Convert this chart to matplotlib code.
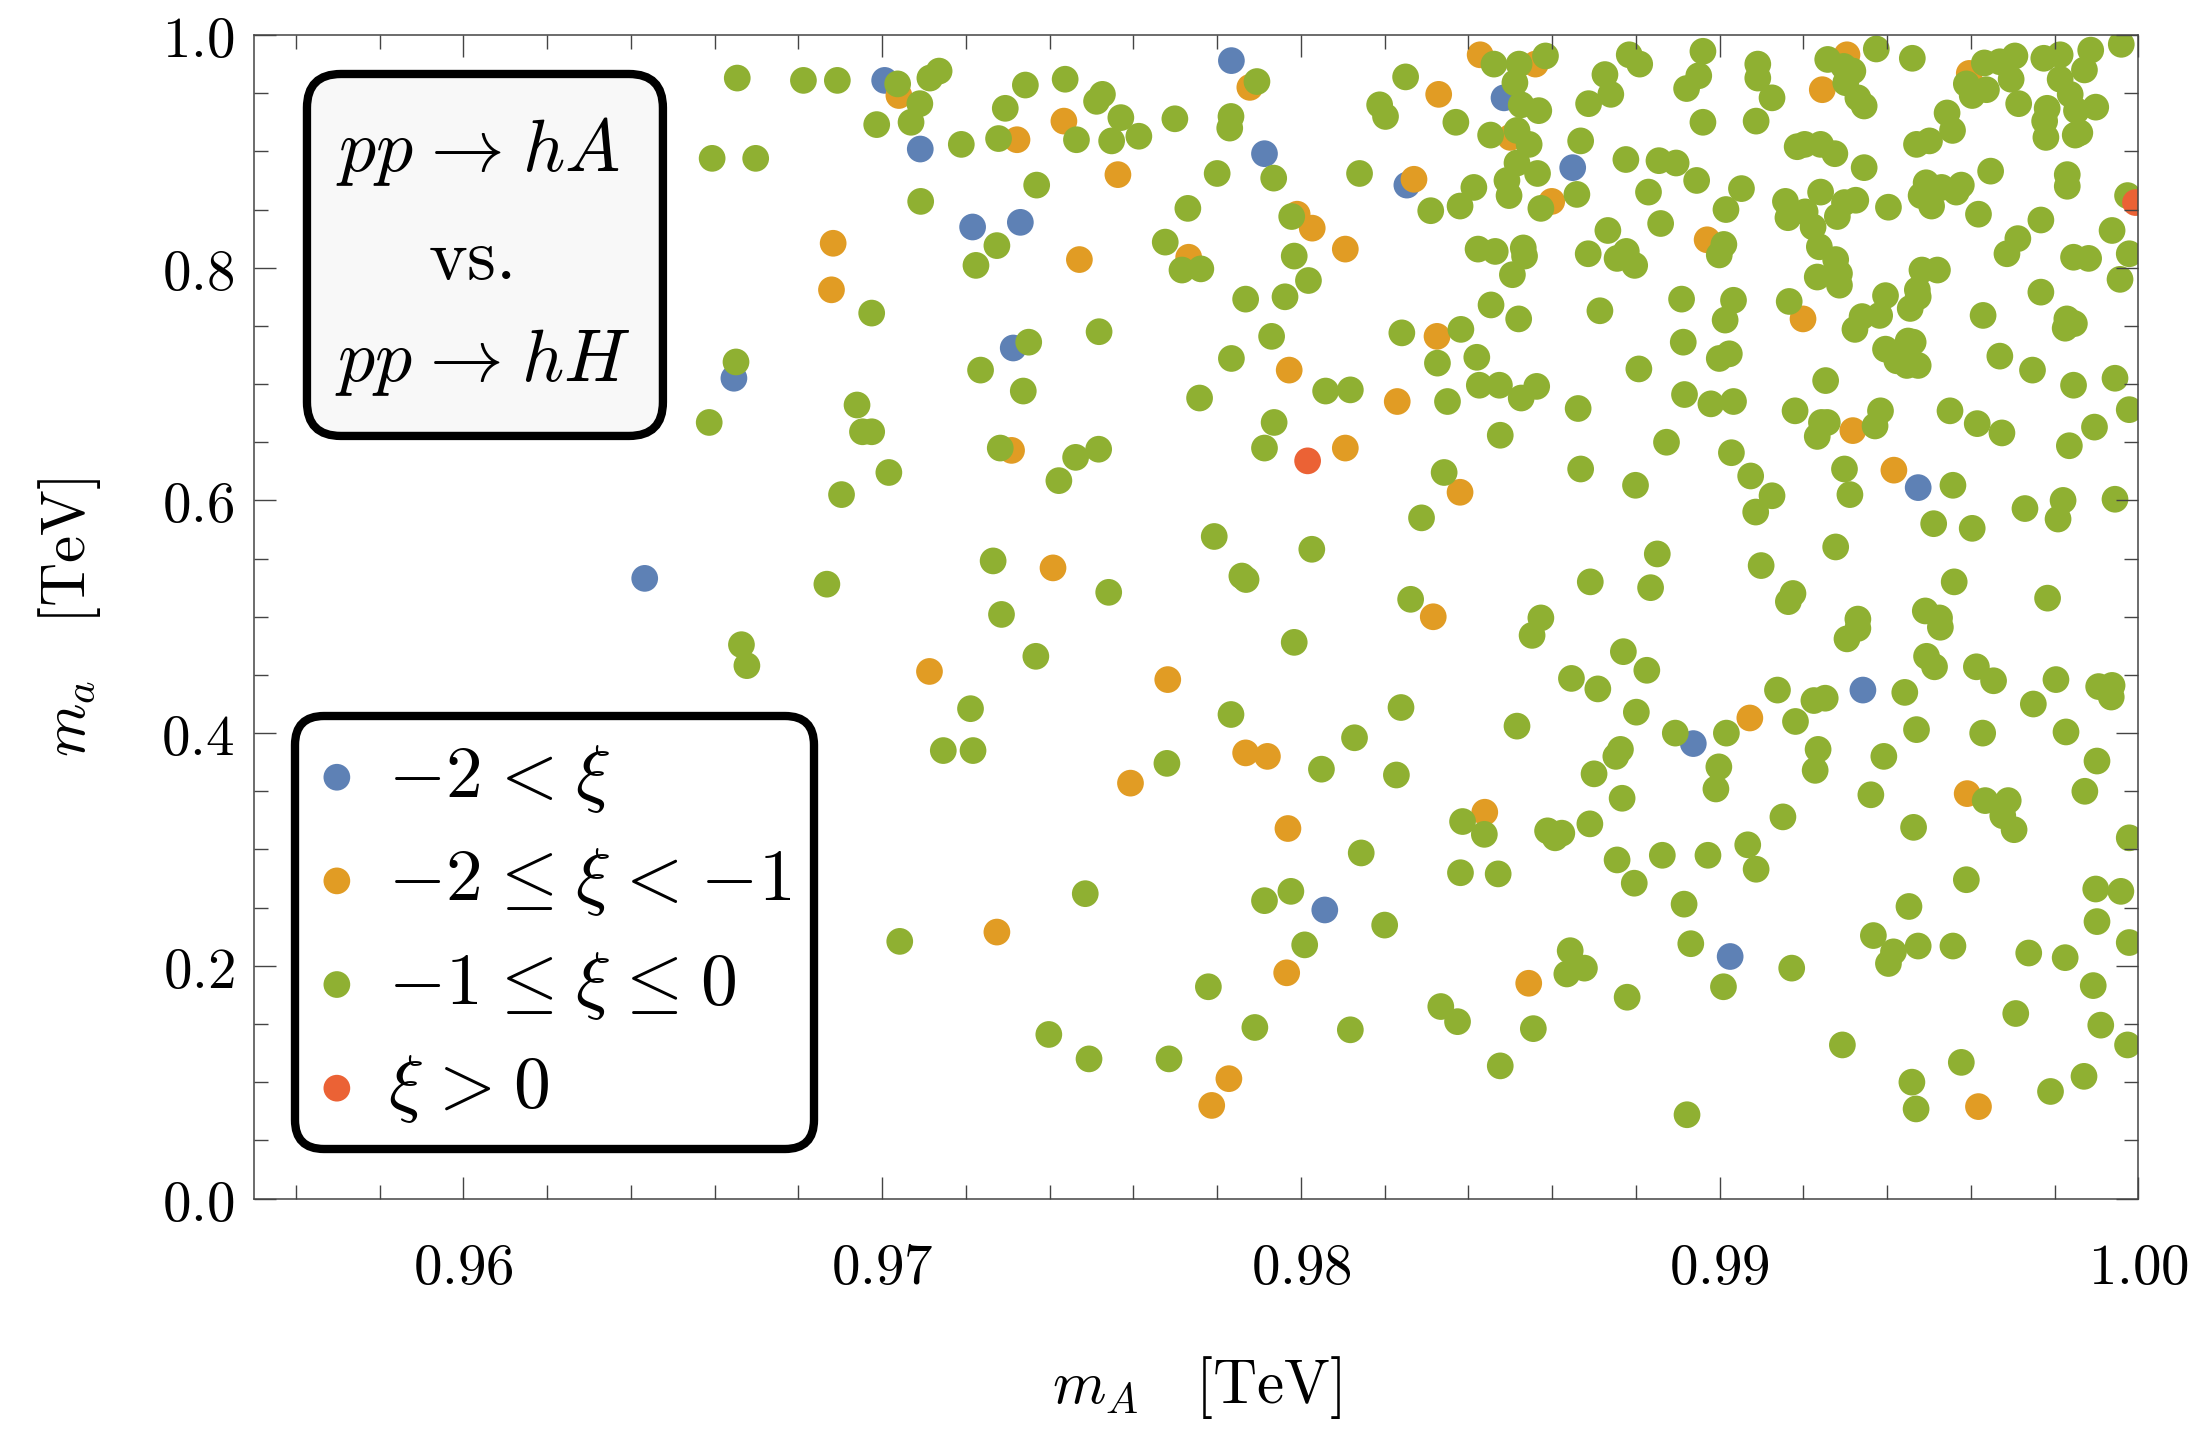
import numpy as np
import matplotlib
matplotlib.use("Agg")
import matplotlib.pyplot as plt
from matplotlib.ticker import MultipleLocator
from matplotlib.patches import FancyBboxPatch

plt.rcParams['mathtext.fontset'] = 'cm'
plt.rcParams['font.family'] = ['DejaVu Serif']

# ---- data: (m_A, m_a) in TeV, split by xi range ----
mA_blue = [0.96433, 0.96646, 0.97006, 0.97091, 0.97216, 0.97330, 0.97313, 0.97834, 0.97913,
           0.98253, 0.98485, 0.98649, 0.99474, 0.98057, 0.98937, 0.99342, 0.99025]
ma_blue = [0.533, 0.705, 0.961, 0.902, 0.835, 0.839, 0.731, 0.978, 0.898,
           0.871, 0.946, 0.886, 0.611, 0.248, 0.391, 0.437, 0.208]

mA_orange = [0.96883, 0.96879, 0.97040, 0.97322, 0.97434, 0.97563, 0.97471, 0.97878, 0.97732,
             0.97991, 0.98027, 0.98106, 0.98270, 0.98329, 0.98428, 0.98325, 0.98230, 0.98380,
             0.98316, 0.97972, 0.98106, 0.97309, 0.97408, 0.98560, 0.98500, 0.98599, 0.98970,
             0.99416, 0.99199, 0.99318, 0.99304, 0.99245, 0.99596, 0.97113, 0.97682, 0.97868,
             0.97920, 0.97593, 0.98439, 0.97969, 0.97966, 0.97274, 0.97828, 0.97787, 0.99072,
             0.99591, 0.98544, 0.99618]
ma_orange = [0.821, 0.781, 0.948, 0.910, 0.926, 0.880, 0.807, 0.955, 0.809,
             0.846, 0.834, 0.816, 0.876, 0.949, 0.983, 0.741, 0.685, 0.607,
             0.500, 0.712, 0.645, 0.643, 0.542, 0.975, 0.912, 0.857, 0.824,
             0.626, 0.756, 0.660, 0.983, 0.953, 0.967, 0.453, 0.446, 0.383,
             0.380, 0.357, 0.332, 0.318, 0.194, 0.229, 0.103, 0.080, 0.413,
             0.348, 0.185, 0.079]

mA_red = [0.98016, 0.99993]
ma_red = [0.634, 0.856]

mA_green = [
    # left region
    0.96654, 0.96812, 0.96893, 0.96987, 0.96594, 0.96698, 0.96975, 0.96651, 0.96940, 0.96587,
    0.96953, 0.96975, 0.97016, 0.96903, 0.96868, 0.96664, 0.96677,
    # 0.970 - 0.985, upper
    0.97037, 0.97090, 0.97114, 0.97136, 0.97069, 0.97189, 0.97278, 0.97342, 0.97294, 0.97437,
    0.97464, 0.97512, 0.97526, 0.97570, 0.97548, 0.97613, 0.97699, 0.97369, 0.97092, 0.97274,
    0.97224, 0.97895, 0.97833, 0.97830, 0.97800, 0.97935, 0.97730, 0.97676, 0.97716, 0.97761,
    0.97978, 0.97984, 0.98018, 0.97868, 0.97962, 0.98140, 0.98250, 0.98188, 0.98202, 0.98370,
    0.98453, 0.98461, 0.98413, 0.98380, 0.98310, 0.98423, 0.98464, 0.98454, 0.98241, 0.98382,
    0.98326, 0.98420, 0.98426, 0.98474, 0.98350, 0.98476, 0.98342, 0.98288, 0.98262, 0.97518,
    0.97350, 0.97235, 0.97337, 0.97834, 0.97930, 0.97758, 0.98059, 0.98118, 0.97936, 0.97913,
    0.97282, 0.97462, 0.97517, 0.97422, 0.97793, 0.98026, 0.97265, 0.97541, 0.97859, 0.97869,
    0.97285,
    # 0.970 - 0.985, lower
    0.97367, 0.97211, 0.97146, 0.97217, 0.97833, 0.97680, 0.97984, 0.98128, 0.98049, 0.98239,
    0.98228, 0.98386, 0.98438, 0.98144, 0.98381, 0.98471, 0.97485, 0.97913, 0.97976, 0.98200,
    0.98009, 0.97042, 0.97779, 0.97890, 0.98118, 0.98334, 0.98374, 0.98476, 0.97398, 0.97494,
    0.97685,
    # 0.985 - 1.000, upper
    0.98584, 0.98521, 0.98511, 0.98526, 0.98568, 0.98516, 0.98545, 0.98516, 0.98565, 0.98492,
    0.98497, 0.98573, 0.98668, 0.98659, 0.98687, 0.98726, 0.98740, 0.98784, 0.98809, 0.98776,
    0.98855, 0.98896, 0.98945, 0.98830, 0.98960, 0.98950, 0.98921, 0.98960, 0.99091, 0.99091,
    0.99125, 0.99087, 0.99052, 0.99015, 0.98733, 0.98859, 0.99010, 0.98999, 0.98686, 0.98777,
    0.98755, 0.98797, 0.98531, 0.98534, 0.98505, 0.98520, 0.98714, 0.98909, 0.99033, 0.99013,
    0.98913, 0.99023, 0.98999, 0.98807, 0.98916, 0.98979, 0.99033, 0.98662, 0.98526, 0.98563,
    0.98873, 0.98668, 0.98799, 0.99028, 0.99074, 0.99125, 0.99086, 0.98851, 0.98691, 0.98835,
    0.98573, 0.99099, 0.99175, 0.99164, 0.99277, 0.99560, 0.99783, 0.99491, 0.99525, 0.99330,
    0.99311, 0.99298, 0.99557, 0.99511, 0.99603, 0.99729, 0.99820, 0.99808, 0.99944, 0.99835,
    0.99895, 0.99978, 0.99944, 0.99845, 0.99747, 0.99669, 0.99629, 0.99767, 0.99825, 0.99847,
    0.99829, 0.99956, 0.99978, 0.99937, 0.99974, 0.99845, 0.99881, 0.99767, 0.99686, 0.99712,
    0.99618, 0.99647, 0.99830, 0.99830, 0.99506, 0.99481, 0.99493, 0.99530, 0.99577, 0.99565,
    0.99403, 0.99345, 0.99325, 0.99298, 0.99281, 0.99241, 0.99157, 0.99163, 0.99204, 0.99223,
    0.99238, 0.99277, 0.99286, 0.99233, 0.99286, 0.99185, 0.99203, 0.99241, 0.99275, 0.99258,
    0.99296, 0.99318, 0.99301, 0.99330, 0.99345, 0.99374, 0.99460, 0.99632, 0.99589, 0.99603,
    0.99637, 0.99543, 0.99556, 0.99501, 0.99470, 0.99669, 0.99705, 0.99696, 0.99714, 0.99774,
    0.99813, 0.99813, 0.99871, 0.99886, 0.99959, 0.99837, 0.99782, 0.99776, 0.99779, 0.99852,
    0.99898, 0.99849, 0.99860, 0.99462, 0.99450, 0.99483, 0.99520, 0.99472, 0.99474, 0.99455,
    0.99396, 0.99382, 0.99340, 0.99323, 0.99396, 0.99423, 0.99447, 0.99474, 0.99166, 0.99253,
    0.99180, 0.99243, 0.99257, 0.99233, 0.99384, 0.99371, 0.99550, 0.99615, 0.99674,
    # 0.985 - 1.000, lower
    0.98552, 0.98770, 0.98826, 0.98646, 0.98709, 0.98801, 0.98516, 0.98763, 0.98752, 0.98700,
    0.98767, 0.98894, 0.99016, 0.98998, 0.98991, 0.99138, 0.99225, 0.99252, 0.99181, 0.99235,
    0.99228, 0.99330, 0.99304, 0.99527, 0.99494, 0.99513, 0.99442, 0.99470, 0.99392, 0.99361,
    0.99613, 0.99654, 0.99803, 0.99749, 0.99905, 0.99935, 0.99937, 0.99628, 0.99827, 0.99901,
    0.99872, 0.99634, 0.99689, 0.99676, 0.99703, 0.99463, 0.99978, 0.99151, 0.99067, 0.99087,
    0.98972, 0.98863, 0.98755, 0.98796, 0.98690, 0.98589, 0.98623, 0.98607, 0.98915, 0.98931,
    0.99009, 0.99172, 0.98643, 0.98677, 0.98635, 0.98779, 0.98555, 0.98922, 0.99452, 0.99589,
    0.99367, 0.99415, 0.99403, 0.99474, 0.99557, 0.99738, 0.99825, 0.99898, 0.99958, 0.99901,
    0.99978, 0.99892, 0.99707, 0.99910, 0.99974, 0.99293, 0.99577, 0.99459, 0.99469, 0.99790,
    0.99870,
]
ma_green = [
    0.963, 0.961, 0.961, 0.923, 0.894, 0.894, 0.761, 0.719, 0.682, 0.667,
    0.659, 0.659, 0.624, 0.605, 0.528, 0.476, 0.458,
    0.958, 0.941, 0.963, 0.969, 0.925, 0.906, 0.911, 0.957, 0.937, 0.962,
    0.910, 0.943, 0.949, 0.929, 0.909, 0.913, 0.928, 0.871, 0.857, 0.819,
    0.802, 0.960, 0.930, 0.920, 0.881, 0.877, 0.851, 0.822, 0.798, 0.799,
    0.844, 0.810, 0.789, 0.773, 0.775, 0.881, 0.964, 0.940, 0.930, 0.925,
    0.914, 0.975, 0.869, 0.853, 0.849, 0.816, 0.814, 0.768, 0.744, 0.747,
    0.718, 0.723, 0.699, 0.699, 0.685, 0.656, 0.624, 0.585, 0.515, 0.745,
    0.736, 0.712, 0.694, 0.722, 0.741, 0.688, 0.694, 0.695, 0.667, 0.645,
    0.645, 0.637, 0.644, 0.617, 0.569, 0.558, 0.548, 0.521, 0.535, 0.532,
    0.502,
    0.466, 0.421, 0.385, 0.385, 0.416, 0.374, 0.478, 0.396, 0.369, 0.422,
    0.364, 0.324, 0.313, 0.297, 0.280, 0.279, 0.262, 0.256, 0.264, 0.235,
    0.218, 0.221, 0.182, 0.147, 0.145, 0.165, 0.152, 0.114, 0.141, 0.120,
    0.120,
    0.982, 0.975, 0.959, 0.940, 0.935, 0.918, 0.906, 0.890, 0.881, 0.875,
    0.862, 0.851, 0.909, 0.863, 0.941, 0.966, 0.949, 0.983, 0.975, 0.893,
    0.892, 0.890, 0.875, 0.865, 0.986, 0.965, 0.954, 0.925, 0.975, 0.963,
    0.946, 0.926, 0.868, 0.850, 0.832, 0.838, 0.820, 0.811, 0.812, 0.814,
    0.808, 0.802, 0.817, 0.810, 0.794, 0.756, 0.763, 0.773, 0.772, 0.755,
    0.736, 0.726, 0.722, 0.713, 0.691, 0.683, 0.685, 0.679, 0.688, 0.698,
    0.650, 0.627, 0.613, 0.641, 0.621, 0.604, 0.590, 0.554, 0.530, 0.525,
    0.499, 0.544, 0.520, 0.513, 0.560, 0.530, 0.516, 0.505, 0.499, 0.498,
    0.605, 0.627, 0.613, 0.580, 0.576, 0.593, 0.600, 0.584, 0.601, 0.647,
    0.663, 0.678, 0.705, 0.699, 0.712, 0.724, 0.759, 0.779, 0.748, 0.752,
    0.756, 0.790, 0.812, 0.832, 0.862, 0.809, 0.808, 0.841, 0.812, 0.825,
    0.846, 0.883, 0.880, 0.870, 0.853, 0.862, 0.873, 0.869, 0.871, 0.865,
    0.852, 0.886, 0.858, 0.856, 0.844, 0.865, 0.857, 0.843, 0.848, 0.835,
    0.818, 0.807, 0.795, 0.792, 0.785, 0.904, 0.906, 0.906, 0.898, 0.979,
    0.973, 0.969, 0.959, 0.946, 0.939, 0.988, 0.980, 0.976, 0.958, 0.948,
    0.953, 0.933, 0.918, 0.909, 0.906, 0.977, 0.982, 0.962, 0.941, 0.980,
    0.983, 0.962, 0.970, 0.987, 0.992, 0.949, 0.937, 0.926, 0.912, 0.935,
    0.938, 0.914, 0.916, 0.736, 0.737, 0.798, 0.798, 0.781, 0.775, 0.765,
    0.776, 0.759, 0.758, 0.747, 0.730, 0.720, 0.716, 0.716, 0.771, 0.703,
    0.677, 0.667, 0.667, 0.655, 0.677, 0.664, 0.677, 0.666, 0.658,
    0.484, 0.470, 0.454, 0.447, 0.438, 0.418, 0.406, 0.386, 0.380, 0.365,
    0.344, 0.400, 0.400, 0.371, 0.352, 0.437, 0.428, 0.430, 0.410, 0.386,
    0.368, 0.490, 0.481, 0.491, 0.466, 0.457, 0.435, 0.403, 0.380, 0.347,
    0.457, 0.445, 0.446, 0.425, 0.440, 0.431, 0.441, 0.400, 0.401, 0.376,
    0.350, 0.342, 0.342, 0.329, 0.317, 0.319, 0.310, 0.328, 0.304, 0.283,
    0.295, 0.295, 0.291, 0.271, 0.322, 0.316, 0.314, 0.310, 0.253, 0.219,
    0.182, 0.198, 0.213, 0.198, 0.193, 0.173, 0.146, 0.072, 0.251, 0.274,
    0.226, 0.212, 0.202, 0.217, 0.217, 0.211, 0.207, 0.266, 0.264, 0.238,
    0.220, 0.183, 0.159, 0.149, 0.132, 0.132, 0.117, 0.100, 0.077, 0.092,
    0.105,
]

# relation spacing a bit wider than mathtext default (closer to LaTeX)
sp = r'\hspace{0.08}'
labels = [r'$-2' + sp + '<' + sp + r'\xi$',
          r'$-2' + sp + r'\leq' + sp + r'\xi' + sp + '<' + sp + '{-1}$',
          r'$-1' + sp + r'\leq' + sp + r'\xi' + sp + r'\leq' + sp + '0$',
          r'$\xi' + sp + '>' + sp + '0$']
colors = ['#5E81B5', '#E19C24', '#8FB032', '#EB6235']

xticks = [0.96, 0.97, 0.98, 0.99, 1.00]
xticklabels = ['0.96', '0.97', '0.98', '0.99', '1.00']
yticks = [0.0, 0.2, 0.4, 0.6, 0.8, 1.0]
yticklabels = ['0.0', '0.2', '0.4', '0.6', '0.8', '1.0']

# ---- figure ----
fig = plt.figure(figsize=(22.03, 14.35), dpi=100)
ax = fig.add_axes([0.1153, 0.1648, 0.8554, 0.8108])

msize = 370
series = [(mA_blue, ma_blue), (mA_orange, ma_orange), (mA_green, ma_green), (mA_red, ma_red)]
handles = []
for (xs, ys), c, lab in zip(series, colors, labels):
    h = ax.scatter(xs, ys, s=msize, color=c, edgecolors='none', label=lab)
    handles.append(h)

ax.set_xlim(0.955, 1.0)
ax.set_ylim(0.0, 1.0)

ax.set_xticks(xticks, labels=['$' + t + '$' for t in xticklabels])
ax.set_yticks(yticks, labels=['$' + t + '$' for t in yticklabels])
ax.xaxis.set_minor_locator(MultipleLocator(0.002))
ax.yaxis.set_minor_locator(MultipleLocator(0.05))

frame_col = '#444444'
for s in ax.spines.values():
    s.set_color(frame_col)
    s.set_linewidth(1.1)
ax.tick_params(which='both', direction='in', top=True, right=True, color=frame_col, width=1.0)
ax.tick_params(which='major', length=16)
ax.tick_params(which='minor', length=10)
ax.tick_params(axis='x', which='major', labelsize=41, pad=30)
ax.tick_params(axis='y', which='major', labelsize=41, pad=14)

ax.set_xlabel(r'$m_A\quad[\mathrm{TeV}]$', fontsize=44)
ax.set_ylabel(r'$m_a\quad[\mathrm{TeV}]$', fontsize=44)
ax.xaxis.set_label_coords(0.5, -0.134)
ax.yaxis.set_label_coords(-0.080, 0.5)

# annotation box
aspect = (0.8554 * 2203) / (0.8108 * 1435)
box = FancyBboxPatch((0.0281, 0.6554), 0.2170 - 0.0281, 0.9665 - 0.6554,
                     boxstyle='round,pad=0,rounding_size=0.018', mutation_aspect=aspect,
                     transform=ax.transAxes, facecolor='#f8f8f8', edgecolor='black',
                     linewidth=6, zorder=5)
ax.add_patch(box)
ax.text(0.1187, 0.8995, r'$pp' + sp + r'\to' + sp + 'hA$', transform=ax.transAxes,
        fontsize=53, ha='center', va='center', zorder=6)
ax.text(0.1146, 0.8075, r'$\mathrm{vs.}$', transform=ax.transAxes, fontsize=53,
        ha='center', va='center', zorder=6)
ax.text(0.1212, 0.7190, r'$pp' + sp + r'\to' + sp + 'hH$', transform=ax.transAxes,
        fontsize=53, ha='center', va='center', zorder=6)

leg = ax.legend(handles=handles, loc='upper left', bbox_to_anchor=(0.0217, 0.4147),
                fontsize=53, scatterpoints=1, handlelength=0.5, handletextpad=0.44,
                borderpad=0.32, labelspacing=0.39, borderaxespad=0, framealpha=1,
                fancybox=True)
leg.get_frame().set_boxstyle('round,pad=0,rounding_size=0.4')
leg.get_frame().set_edgecolor('black')
leg.get_frame().set_linewidth(6)
leg.set_zorder(10)

fig.savefig('out.png', dpi=100)
